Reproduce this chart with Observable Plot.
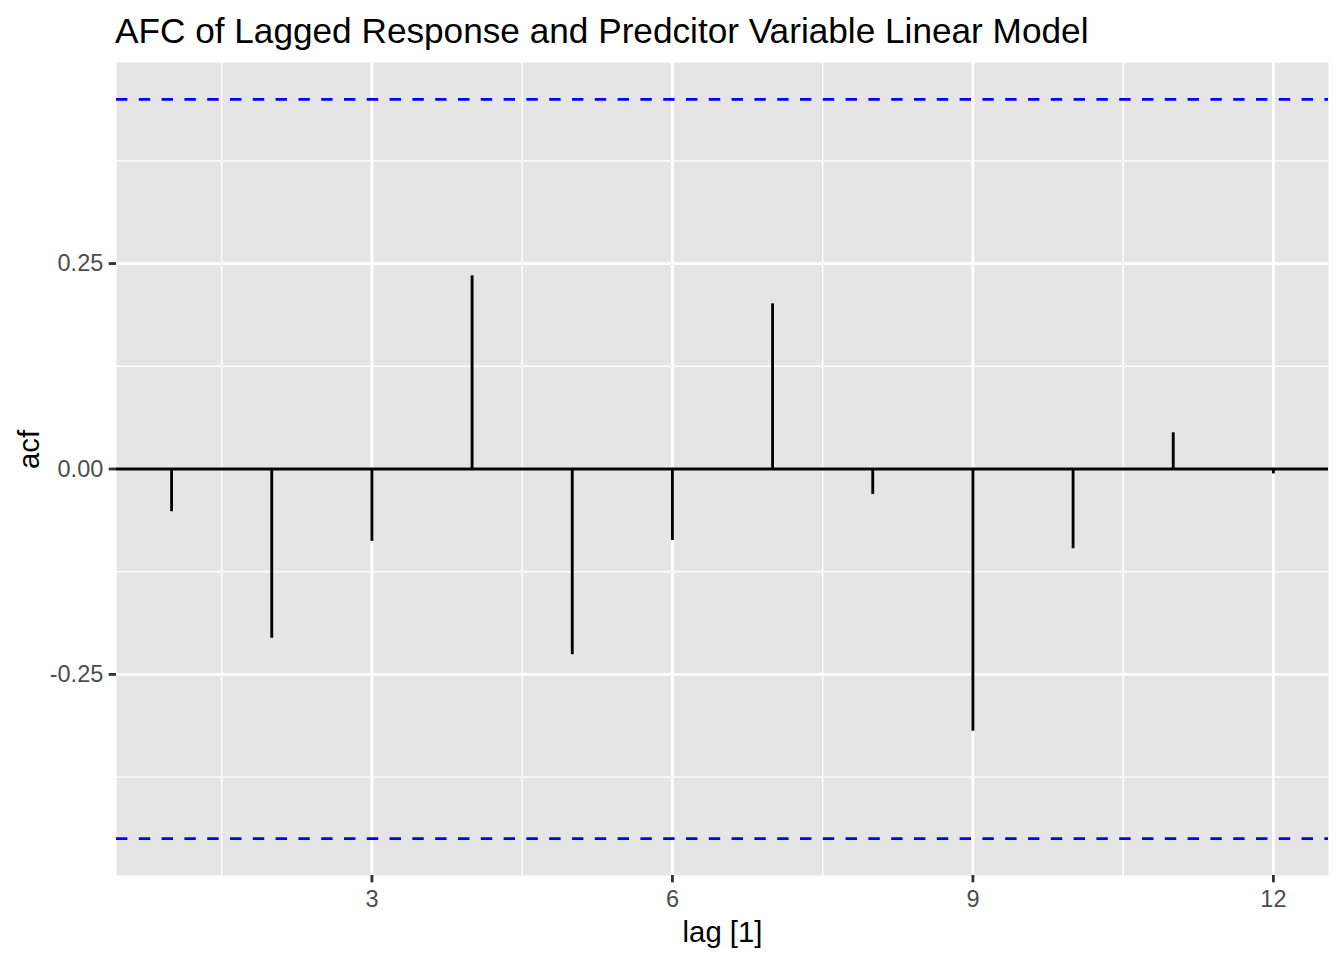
<!DOCTYPE html>
<html>
<head>
<meta charset="utf-8">
<script src="https://cdn.jsdelivr.net/npm/d3@7"></script>
<script src="https://cdn.jsdelivr.net/npm/@observablehq/plot@0.6"></script>
<style>
  html, body { margin: 0; padding: 0; background: #fff; }
  #title {
    box-sizing: border-box; height: 62px; padding: 13px 0 0 115px;
    font-family: "Liberation Sans", Arial, Helvetica, sans-serif;
    font-size: 35.2px; line-height: 1; color: #000; white-space: nowrap;
  }
  #chart svg { display: block; }
</style>
</head>
<body>
<div id="title">AFC of Lagged Response and Predcitor Variable Linear Model</div>
<div id="chart"></div>
<script>
const lags = [1, 2, 3, 4, 5, 6, 7, 8, 9, 10, 11, 12];
const acfValues = [-0.052, -0.206, -0.088, 0.235, -0.226, -0.087, 0.201, -0.031, -0.319, -0.097, 0.044, -0.006];
const ciBounds = [0.4497, -0.4497];
const xTicks = [3, 6, 9, 12];
const xMinor = [1.5, 4.5, 7.5, 10.5];
const yTicks = [-0.25, 0, 0.25];
const yMinor = [-0.375, -0.125, 0.125, 0.375];

const data = lags.map((lag, i) => ({lag, acf: acfValues[i]}));

// ggplot-style 5% expansion of the data range
const expand = ([a, b]) => { const p = (b - a) * 0.05; return [a - p, b + p]; };
const xDomain = expand(d3.extent(lags));
const yDomain = expand(d3.extent([...acfValues, ...ciBounds]));

const font = "Liberation Sans, Arial, Helvetica, sans-serif";
const lw = 2.84;

const chart = Plot.plot({
  width: 1344,
  height: 898,
  marginTop: 0,
  marginLeft: 116,
  marginRight: 16,
  marginBottom: 85,
  style: {fontFamily: font, background: "#fff"},
  x: {domain: xDomain},
  y: {domain: yDomain},
  marks: [
    Plot.frame({fill: "#E5E5E5", stroke: null}),
    Plot.ruleX(xMinor, {stroke: "#fff", strokeWidth: lw / 2}),
    Plot.ruleY(yMinor, {stroke: "#fff", strokeWidth: lw / 2}),
    Plot.ruleX(xTicks, {stroke: "#fff", strokeWidth: lw}),
    Plot.ruleY(yTicks, {stroke: "#fff", strokeWidth: lw}),
    Plot.ruleY([0], {stroke: "#000", strokeWidth: lw}),
    Plot.ruleX(data, {x: "lag", y1: 0, y2: "acf", stroke: "#000", strokeWidth: lw}),
    Plot.ruleY(ciBounds, {stroke: "#0000FF", strokeWidth: lw, strokeDasharray: "11.4,11.4"}),
    // ticks
    Plot.axisX(xTicks, {tickSize: 7.3, stroke: "#333333", strokeWidth: lw, fill: "none", label: null}),
    Plot.axisY(yTicks, {tickSize: 7.3, stroke: "#333333", strokeWidth: lw, fill: "none", label: null}),
    // tick labels
    Plot.axisX(xTicks, {tickSize: 7.3, tickPadding: 7.5, stroke: "none", fill: "#4D4D4D", fontSize: 23.5, label: null}),
    Plot.axisY(yTicks, {tickSize: 7.3, tickPadding: 5.9, stroke: "none", fill: "#4D4D4D", fontSize: 23.5, label: null,
      tickFormat: d => d.toFixed(2)}),
    // axis titles
    Plot.text(["lag [1]"], {frameAnchor: "bottom", dy: 66, fontSize: 29.3, fill: "#000", text: d => d}),
    Plot.text(["acf"], {frameAnchor: "left", dx: -87, rotate: -90, fontSize: 29.3, fill: "#000", text: d => d})
  ]
});
document.getElementById("chart").appendChild(chart);
</script>
</body>
</html>
